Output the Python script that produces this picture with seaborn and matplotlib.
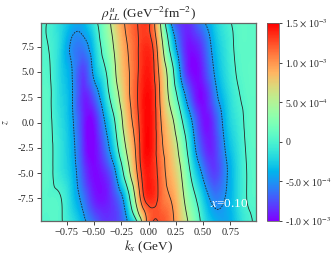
import numpy as np
import matplotlib
matplotlib.use("Agg")
import matplotlib.pyplot as plt
import matplotlib.tri as mtri
from matplotlib.colors import Normalize
from matplotlib.cm import ScalarMappable
import seaborn as sns

# grid: k_x (GeV) columns, z rows, rho in units of 1e-4
kx = [-1.0, -0.9, -0.8, -0.7, -0.6, -0.5, -0.4, -0.3, -0.2, -0.1, 0.0,
      0.1, 0.2, 0.3, 0.4, 0.5, 0.6, 0.7, 0.8, 0.9, 1.0]
z_rows = [10.0, 7.5, 5.0, 2.5, 0.0, -2.5, -5.0, -7.5, -10.0]

rho_z10 = [0.5, -0.3, -2.0, -3.6, -3.8, -1.0, 2.5, 7.5, 10.5, 12.5, 13.0,
           6.0, -5.0, -8.5, -8.0, -5.3, -2.8, -0.8, 0.6, 0.8, 0.8]
rho_z7p5 = [0.5, -0.2, -2.5, -5.5, -6.0, -3.0, 1.5, 6.0, 9.8, 12.3, 13.6,
            8.0, -1.0, -7.5, -9.5, -7.8, -4.0, -1.5, 0.3, 0.8, 0.8]
rho_z5 = [0.5, 0.0, -2.5, -5.0, -8.0, -4.3, -0.5, 5.0, 9.3, 12.3, 14.2,
          9.5, 2.5, -5.8, -9.8, -8.8, -5.0, -2.0, 0.0, 0.8, 0.8]
rho_z2p5 = [0.6, 0.2, -2.2, -4.8, -8.8, -7.3, -2.5, 3.2, 8.8, 12.5, 14.7,
            10.2, 4.0, -2.5, -8.0, -9.8, -6.5, -3.0, -0.6, 0.6, 0.7]
rho_z0 = [0.6, 0.3, -1.8, -4.5, -8.8, -9.6, -5.0, 0.5, 7.5, 12.0, 14.8,
          10.8, 6.5, 0.8, -5.0, -9.3, -8.2, -4.0, -1.3, 0.4, 0.6]
rho_zm2p5 = [0.6, 0.4, -1.5, -4.0, -8.5, -10.0, -6.8, -1.5, 5.5, 11.3, 14.8,
             11.2, 8.0, 3.2, -3.2, -8.0, -8.6, -5.0, -2.0, 0.2, 0.6]
rho_zm5 = [0.6, 0.4, -1.3, -3.5, -7.5, -9.8, -8.8, -5.0, 2.5, 10.3, 14.2,
           11.8, 8.8, 5.0, -1.0, -5.6, -8.0, -5.8, -2.5, 0.0, 0.5]
rho_zm7p5 = [0.6, 0.5, 0.0, -2.8, -6.0, -9.0, -9.4, -7.5, -2.5, 7.5, 13.6,
             12.0, 10.0, 6.3, 1.5, -2.8, -5.8, -5.0, -2.5, 0.0, 0.4]
rho_zm10 = [0.5, 0.4, 0.2, -1.5, -4.0, -6.5, -8.3, -8.0, -5.5, -0.5, 11.5,
            12.5, 11.0, 7.5, 3.5, -1.0, -3.5, -4.5, -3.0, -0.5, 0.3]

line_levels = [-5e-4, 0.0, 5e-4, 1e-3, 1.25e-3]
cb_ticks = [-1e-3, -5e-4, 0.0, 5e-4, 1e-3, 1.5e-3]
cb_labels = [r"-1.0 $\times$ 10$^{-3}$", r"-5.0 $\times$ 10$^{-4}$", "0",
             r"5.0 $\times$ 10$^{-4}$", r"1.0 $\times$ 10$^{-3}$",
             r"1.5 $\times$ 10$^{-3}$"]
x_ticks = [-0.75, -0.5, -0.25, 0.0, 0.25, 0.5, 0.75]
y_ticks = [-7.5, -5.0, -2.5, 0.0, 2.5, 5.0, 7.5]

sns.set_style("ticks")
plt.rcParams["font.family"] = ["Liberation Serif", "DejaVu Serif"]
plt.rcParams["mathtext.fontset"] = "stix"

rho = np.array([rho_z10, rho_z7p5, rho_z5, rho_z2p5, rho_z0, rho_zm2p5,
                rho_zm5, rho_zm7p5, rho_zm10]) * 1e-4
KX, ZZ = np.meshgrid(kx, z_rows)
nr, nc = KX.shape

# two triangles per grid cell
tris = []
for i in range(nr - 1):
    for j in range(nc - 1):
        a = i * nc + j
        tris.append([a, a + 1, a + nc])
        tris.append([a + 1, a + nc + 1, a + nc])
zscale = 25.0
tri = mtri.Triangulation(KX.ravel(), ZZ.ravel() / zscale, np.array(tris))
tri_f, rho_f = mtri.UniformTriRefiner(tri).refine_field(rho.ravel(), subdiv=4)
tri_plot = mtri.Triangulation(tri_f.x, tri_f.y * zscale, tri_f.triangles)

cmap = sns.color_palette("rainbow", as_cmap=True)
norm = Normalize(-1e-3, 1.5e-3)

fig = plt.figure(figsize=(3.35, 2.58), dpi=100)
ax = fig.add_axes([0.1224, 0.1434, 0.6418, 0.7675])
cax = fig.add_axes([0.797, 0.1434, 0.0358, 0.7675])

ax.tricontourf(tri_plot, rho_f, levels=np.linspace(-1e-3, 1.5e-3, 151),
               cmap=cmap, norm=norm, extend="both")
ax.tricontour(tri_plot, rho_f, levels=line_levels, colors="0.15",
              linewidths=0.6,
              linestyles=[(0, (2, 1.3)), "solid", "solid", "solid", "solid"])

ax.set_xlim(-0.985, 0.985)
ax.set_ylim(-9.75, 9.85)
ax.set_xticks(x_ticks)
ax.set_yticks(y_ticks)
ax.yaxis.set_major_formatter(plt.FuncFormatter(lambda v, _: f"{v:.1f}"))
ax.tick_params(labelsize=7.5, length=3, width=0.6, pad=2)
for s in ax.spines.values():
    s.set_color("0.4")
    s.set_linewidth(0.9)

ax.set_title(r"$\rho^{u}_{LL}$ (GeV$^{-2}$fm$^{-2}$)", fontsize=9.5, pad=3)
ax.set_xlabel(r"$k_x$ (GeV)", fontsize=9.5, labelpad=1)
ax.set_ylabel(r"$z$", fontsize=7, labelpad=5)
ax.text(0.56, -8.1, r"$x$=0.10", color="white", fontsize=9.5, va="center")

cb = fig.colorbar(ScalarMappable(norm=norm, cmap=cmap), cax=cax, ticks=cb_ticks)
cb.ax.set_yticklabels(cb_labels)
cb.ax.tick_params(labelsize=7, length=2.5, width=0.6, pad=2)
cb.outline.set_edgecolor("0.4")
cb.outline.set_linewidth(0.6)

fig.savefig("out.png", dpi=100)
